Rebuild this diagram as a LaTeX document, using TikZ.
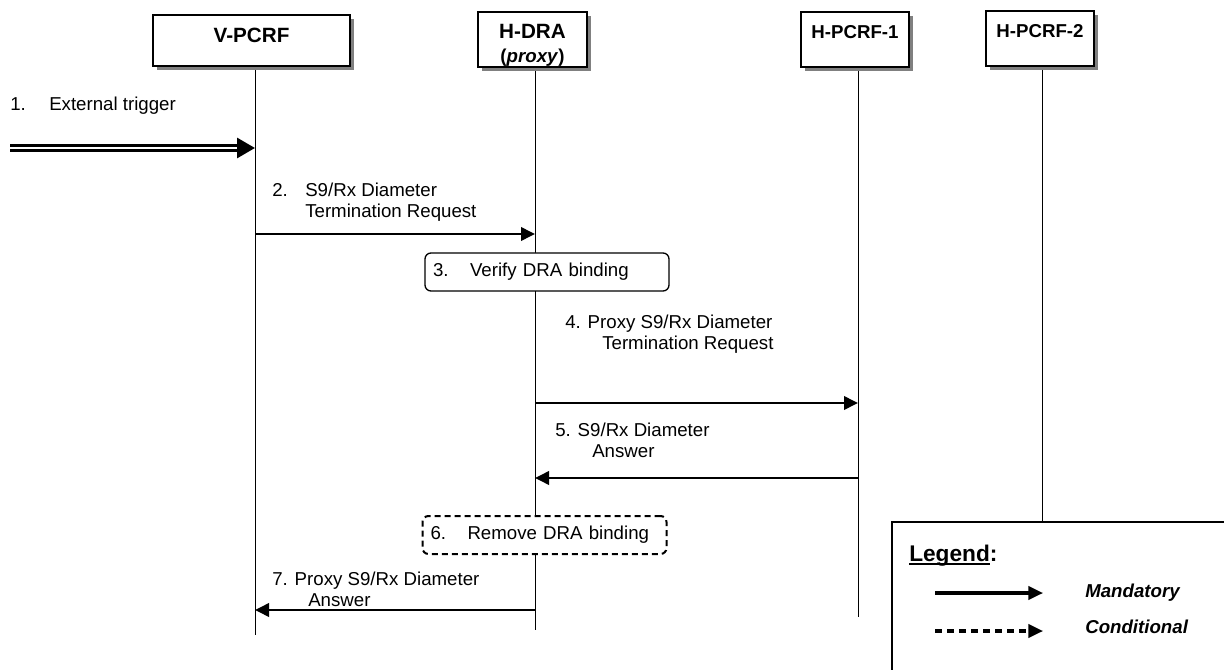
\documentclass[tikz,border=0pt]{standalone}
\usepackage{fontspec}
\setmainfont{Liberation Sans}
\usepackage{tikz}
\usetikzlibrary{arrows.meta,shadows}
\definecolor{ink}{HTML}{000000}
\definecolor{shade}{HTML}{808080}
\newlength\legwd
\newcommand\legul[1]{\settowidth{\legwd}{#1}\rlap{\rule[-2.2pt]{\legwd}{1.3pt}}#1}

\begin{document}
\begin{tikzpicture}[x=0.75pt,y=-0.75pt,font=\fontsize{14}{15.5}\selectfont,
   actor/.style={draw=ink,line width=1.2pt,fill=white,inner xsep=0pt,inner ysep=0pt,
     align=center,font=\bfseries\fontsize{15.5}{15}\selectfont,
     drop shadow={shadow xshift=3pt,shadow yshift=-3pt,fill=shade,opacity=1}},
   stepbox/.style={draw=ink,line width=1pt,rounded corners=4.5pt,fill=white,
     minimum height=28.5pt,text width=171pt,inner xsep=6pt,align=left},
   condbox/.style={stepbox,line width=1.5pt,dash pattern=on 4.5pt off 3pt},
   life/.style={draw=ink,line width=0.65pt},
   msg/.style={-{Triangle[length=10.5pt,width=10pt]},draw=ink,line width=1.9pt},
   trigger/.style={-{Triangle[length=13.5pt,width=15pt]},draw=ink,double,
     double distance=1.5pt,line width=2.3pt},
   legflow/.style={-{Triangle[length=11pt,width=10pt]},draw=ink,line width=2.3pt},
   note/.style={anchor=north west,inner sep=0pt,align=left}]
 \useasboundingbox (0,0) rectangle (1224,670);

 % entities
 \node[actor,minimum width=147.75pt,text height=20.85pt,text depth=17.4pt]
   (vpcrf) at (251.5,40.5) {V-PCRF};
 \node[actor,minimum width=81.75pt,text height=38.25pt,text depth=3pt]
   (hdra) at (532.5,39.5) {H-DRA\\[3pt]{\fontsize{14}{15}\selectfont(\textit{proxy})}};
 \node[actor,minimum width=81pt,text height=19.75pt,text depth=21.5pt,
   font=\bfseries\fontsize{14}{15}\selectfont] (hpcrf1) at (855,39.5) {H-PCRF-1};
 \node[actor,minimum width=81pt,text height=19.75pt,text depth=21.5pt,
   font=\bfseries\fontsize{14}{15}\selectfont] (hpcrf2) at (1040,38.5) {H-PCRF-2};

 % legend
 \node[draw=ink,line width=2pt,fill=white,minimum width=268.5pt,minimum height=133.5pt]
   (legend) at (1071,611) {};
 \node[note,font=\bfseries\fontsize{17}{18}\selectfont] (legtitle) at (909,545) {\legul{Legend}:};
 \coordinate (mand0) at (935,593);
 \coordinate (mand1) at (1043,593);
 \coordinate (cond0) at (935,631);
 \coordinate (cond1) at (1043,631);
 \draw[legflow] (mand0) -- (mand1);
 \draw[legflow,dash pattern=on 5.25pt off 3.75pt] (cond0) -- (cond1);
 \node[anchor=base west,inner sep=0pt,font=\bfseries\itshape\fontsize{14}{15}\selectfont]
   (mandtxt) at (1085,597) {Mandatory};
 \node[anchor=base west,inner sep=0pt,font=\bfseries\itshape\fontsize{14}{15}\selectfont]
   (condtxt) at (1085,633) {Conditional};

 % lifelines
 \coordinate (vtop) at (255,70);
 \coordinate (vbot) at (255,635);
 \coordinate (dtop) at (535,71);
 \coordinate (dbot) at (535,630);
 \coordinate (p1top) at (858,71);
 \coordinate (p1bot) at (858,617);
 \coordinate (p2top) at (1042,70);
 \draw[life] (vtop) -- (vbot);
 \draw[life] (dtop) -- (dbot);
 \draw[life] (p1top) -- (p1bot);
 \draw[life] (p2top) -- (p2top |- legend.north);

 % 1. external trigger
 \node[note] (t1) at (10,97) {\makebox[29.25pt][l]{1.}External trigger};
 \coordinate (trig) at (10,148);
 \draw[trigger] (trig) -- (vtop |- trig);

 % 2. termination request
 \node[note] (t2) at (272,183)
   {\makebox[24.75pt][l]{2.}S9/Rx Diameter\\\hspace*{24.75pt}Termination Request};
 \coordinate (y2) at (0,234);
 \draw[msg] (vtop |- y2) -- (dtop |- y2);

 % 3. binding check
 \node[stepbox] (s3) at (547,272) {\makebox[27.75pt][l]{3.}Verify DRA binding};

 % 4. proxied request
 \node[note] (t4) at (565,315)
   {4. Proxy S9/Rx Diameter\\\hspace*{27.75pt}Termination Request};
 \coordinate (y4) at (0,403);
 \draw[msg] (dtop |- y4) -- (p1top |- y4);

 % 5. answer
 \node[note] (t5) at (555,423) {5. S9/Rx Diameter\\\hspace*{27.75pt}Answer};
 \coordinate (y5) at (0,478);
 \draw[msg] (p1top |- y5) -- (dtop |- y5);

 % 6. binding removal (conditional)
 \node[condbox] (s6) at (544.5,535) {\makebox[27.75pt][l]{6.}Remove DRA binding};

 % 7. proxied answer
 \node[note] (t7) at (272,572) {7. Proxy S9/Rx Diameter\\\hspace*{27pt}Answer};
 \coordinate (y7) at (0,610);
 \draw[msg] (dtop |- y7) -- (vtop |- y7);
\end{tikzpicture}
\end{document}
